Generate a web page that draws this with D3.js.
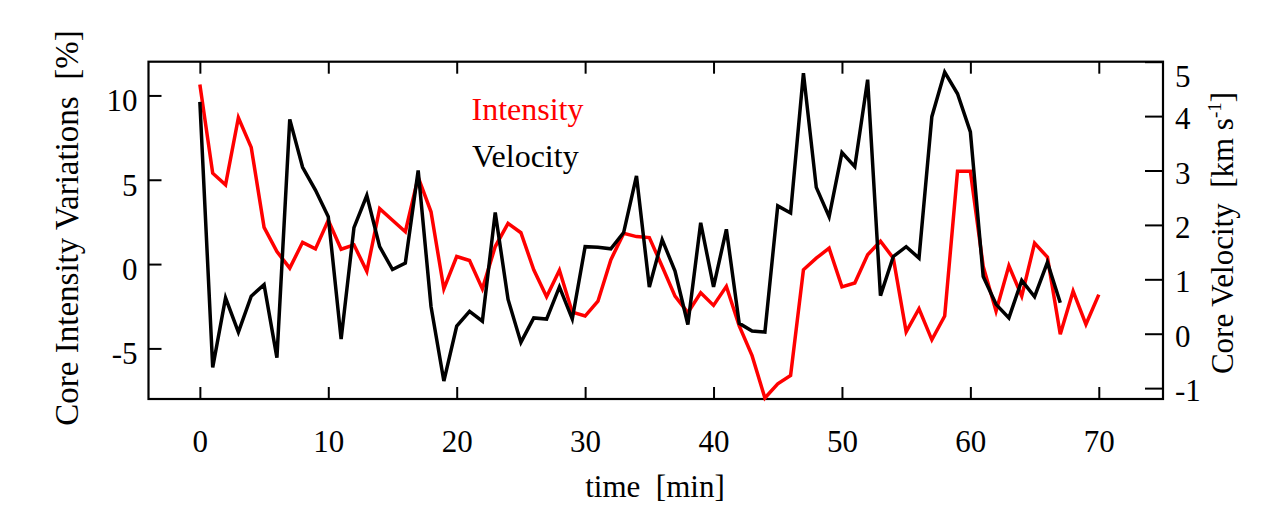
<!DOCTYPE html>
<html>
<head>
<meta charset="utf-8">
<script src="https://cdn.jsdelivr.net/npm/d3@7"></script>
<style>
  body { margin: 0; background: #fff; }
  text { font-family: "Liberation Serif", "Times New Roman", serif; }
</style>
</head>
<body>
<script>
// core intensity variations [%], one sample per minute from t = 0
let intensity = [10.65, 5.39, 4.7, 8.68, 6.92, 2.18, 0.74, -0.24, 1.29, 0.9,
  2.6, 0.88, 1.14, -0.43, 3.29, 2.6, 1.92, 5.15, 3.1, -1.47,
  0.45, 0.21, -1.47, 1.04, 2.41, 1.86, -0.34, -1.94, -0.37, -2.85,
  -3.08, -2.2, 0.25, 1.82, 1.63, 1.57, -0.14, -1.9, -2.88, -1.7,
  -2.45, -1.32, -3.67, -5.43, -7.94, -7.1, -6.61, -0.34, 0.35, 0.94,
  -1.35, -1.12, 0.55, 1.35, 0.35, -4.02, -2.65, -4.49, -3.08, 5.51,
  5.51, -0.14, -2.79, -0.1, -1.9, 1.24, 0.41, -4.16, -1.61, -3.57,
  -1.81]

// core velocity [km/s], one sample per minute from t = 0
let velocity = [4.26, -0.62, 0.66, 0.03, 0.69, 0.9, -0.44, 3.94, 3.06, 2.64,
  2.15, -0.1, 1.95, 2.54, 1.6, 1.18, 1.3, 3.0, 0.5, -0.87,
  0.14, 0.41, 0.23, 2.23, 0.63, -0.16, 0.29, 0.27, 0.86, 0.27,
  1.6, 1.59, 1.56, 1.86, 2.9, 0.86, 1.73, 1.15, 0.17, 2.04,
  0.86, 1.92, 0.19, 0.05, 0.03, 2.35, 2.22, 4.79, 2.69, 2.15,
  3.33, 3.07, 4.67, 0.7, 1.42, 1.6, 1.39, 3.99, 4.81, 4.41,
  3.71, 1.05, 0.54, 0.29, 0.98, 0.68, 1.31, 0.57]

let timeTicks = [0, 10, 20, 30, 40, 50, 60, 70]
let intensityTicks = [-5, 0, 5, 10]
let velocityTicks = [-1, 0, 1, 2, 3, 4, 5]

var width = 1283, height = 505;
var plot = {left: 148.5, right: 1163, top: 61.7, bottom: 399};

var x = d3.scaleLinear().domain([-4, 75]).range([plot.left, plot.right]);
var yL = d3.scaleLinear().domain([-8, 12]).range([plot.bottom, plot.top]);
var yR = d3.scaleLinear().domain([-1.2, 5]).range([plot.bottom, plot.top]);

// plain hyphen for negatives, like the original
var fmt = d => String(d);

var svg = d3.select("body").append("svg")
    .attr("width", width)
    .attr("height", height);

function styleAxis(g) {
  g.select(".domain").remove();
  g.selectAll(".tick line").attr("stroke", "#000").attr("stroke-width", 2);
  g.selectAll(".tick text")
    .attr("fill", "#000")
    .style("font-size", "31px");
}

// bottom axis, ticks pointing inward
svg.append("g")
    .attr("transform", "translate(0," + plot.bottom + ")")
    .call(d3.axisBottom(x).tickValues(timeTicks).tickSize(-12).tickFormat(fmt))
    .call(styleAxis)
    .call(g => g.selectAll(".tick text").attr("y", 52.7).attr("dy", null));

// top mirror ticks
svg.append("g")
    .attr("transform", "translate(0," + plot.top + ")")
    .call(d3.axisTop(x).tickValues(timeTicks).tickSize(-12).tickFormat(""))
    .call(styleAxis);

// left axis
svg.append("g")
    .attr("transform", "translate(" + plot.left + ",0)")
    .call(d3.axisLeft(yL).tickValues(intensityTicks).tickSize(-13).tickFormat(fmt))
    .call(styleAxis)
    .call(g => g.selectAll(".tick text").attr("x", -11).attr("dy", 15.5));

// right axis
svg.append("g")
    .attr("transform", "translate(" + plot.right + ",0)")
    .call(d3.axisRight(yR).tickValues(velocityTicks).tickSize(-18).tickFormat(fmt))
    .call(styleAxis)
    .call(g => g.selectAll(".tick text").attr("x", 12)
      .attr("dy", d => d == 5 ? 25 : 12.5));

// frame
svg.append("rect")
    .attr("x", plot.left)
    .attr("y", plot.top)
    .attr("width", plot.right - plot.left)
    .attr("height", plot.bottom - plot.top)
    .attr("fill", "none")
    .attr("stroke", "#000")
    .attr("stroke-width", 2.2);

var lineI = d3.line()
    .x((d, i) => x(i))
    .y(d => yL(d));
var lineV = d3.line()
    .x((d, i) => x(i))
    .y(d => yR(d));

svg.append("path")
    .datum(intensity)
    .attr("d", lineI)
    .attr("fill", "none")
    .attr("stroke", "#ff0000")
    .attr("stroke-width", 3.5)
    .attr("stroke-linejoin", "miter");

svg.append("path")
    .datum(velocity)
    .attr("d", lineV)
    .attr("fill", "none")
    .attr("stroke", "#000")
    .attr("stroke-width", 3.5)
    .attr("stroke-linejoin", "miter");

// legend
svg.append("text")
    .attr("x", 471.5)
    .attr("y", 120)
    .attr("fill", "#ff0000")
    .style("font-size", "32px")
    .text("Intensity");
svg.append("text")
    .attr("x", 472)
    .attr("y", 166.5)
    .attr("fill", "#000")
    .style("font-size", "32px")
    .text("Velocity");

// axis titles
svg.append("text")
    .attr("x", 655)
    .attr("y", 497)
    .attr("text-anchor", "middle")
    .style("font-size", "31px")
    .style("white-space", "pre")
    .text("time  [min]");

svg.append("text")
    .attr("transform", "translate(78,228) rotate(-90)")
    .attr("text-anchor", "middle")
    .style("font-size", "33px")
    .style("white-space", "pre")
    .text("Core Intensity Variations  [%]");

var rt = svg.append("text")
    .attr("transform", "translate(1233,233) rotate(-90)")
    .attr("text-anchor", "middle")
    .style("font-size", "31px")
    .style("white-space", "pre");
rt.append("tspan").text("Core Velocity  [km s");
rt.append("tspan").attr("dy", -12).style("font-size", "19px").text("-1");
rt.append("tspan").attr("dy", 12).text("]");
</script>
</body>
</html>
